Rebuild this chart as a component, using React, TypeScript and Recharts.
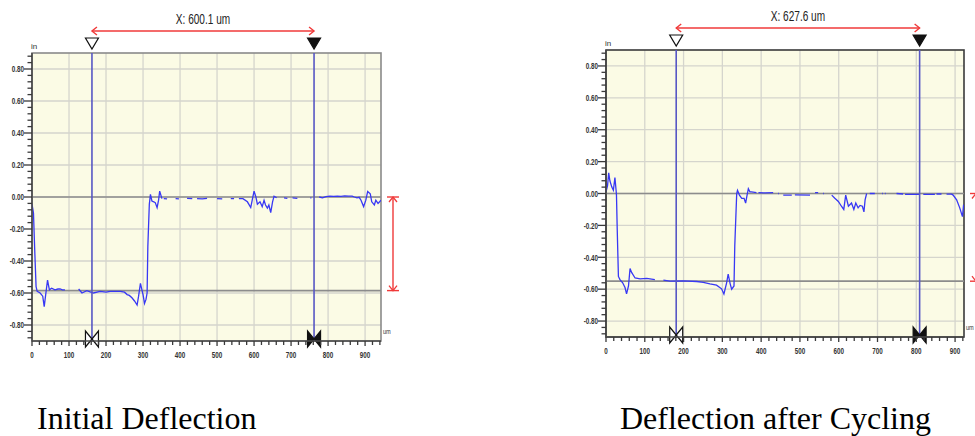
import React from "react"
import { LineChart, Line, XAxis, YAxis, CartesianGrid, ReferenceLine, ReferenceArea } from "recharts"

// profile before cycling (x in um, deflection; null = dropout in the scan)
const initialX = [
    0, 4, 7, 11, 14, 22, 29, 33, 37, 42, 47, 53, 62, 70, 76, 82, 89, 105, 126, 135, 148, 166, 184, 200, 211, 225,
    239, 250, 257, 263, 270, 277, 284, 288, 293, 297, 300, 304, 308, 311, 313, 317, 320, 324, 329, 333, 338, 342,
    345, 351, 353, 356, 365, 376, 388, 397, 408, 419, 433, 440, 446, 460, 473, 487, 500, 514, 525, 537, 546, 553,
    559, 570, 582, 591, 595, 600, 605, 609, 616, 622, 627, 631, 636, 640, 645, 650, 654, 661, 670, 681, 690, 697,
    704, 717, 735, 752, 755, 765, 776, 785, 794, 805, 815, 825, 835, 845, 855, 865, 871, 878, 884, 889, 896, 902,
    907, 914, 918, 925, 929, 935, 943,
]
const initialY = [
    -0.045, -0.1, -0.31, -0.56, -0.59, -0.6, -0.62, -0.685, -0.61, -0.52, -0.58, -0.57, -0.58, -0.575, -0.575, -0.58,
    -0.58, null, -0.575, -0.6, -0.585, -0.6, -0.59, -0.595, -0.59, -0.59, -0.59, -0.595, -0.61, -0.615, -0.63, -0.65,
    -0.675, -0.62, -0.54, -0.58, -0.61, -0.665, -0.64, -0.6, -0.31, -0.045, 0.016, -0.025, -0.03, -0.035, -0.066,
    -0.02, 0.037, -0.01, null, -0.01, -0.012, null, -0.01, -0.012, null, -0.008, -0.01, null, -0.01, -0.012, -0.008,
    null, -0.01, -0.012, null, -0.01, -0.01, null, -0.01, -0.01, -0.03, -0.066, -0.02, 0.037, 0.0, -0.045, -0.03,
    -0.06, -0.02, -0.05, -0.07, -0.05, -0.097, -0.03, 0.005, -0.005, null, -0.005, -0.008, null, -0.005, -0.008,
    null, -0.005, -0.005, null, 0.0, -0.005, 0.003, 0.005, 0.004, 0.006, 0.004, 0.007, 0.005, 0.006, 0.0, -0.005,
    -0.002, -0.02, -0.06, -0.02, 0.035, 0.02, -0.03, -0.05, -0.02, -0.04, -0.02,
]

// profile after cycling
const cycledX = [
    0, 4, 7, 10, 15, 19, 23, 26, 27, 29, 32, 36, 43, 49, 53, 58, 62, 66, 75, 88, 105, 126, 135, 148, 165, 199, 234,
    251, 268, 285, 298, 304, 311, 315, 320, 324, 330, 332, 337, 339, 344, 350, 356, 360, 363, 367, 371, 375, 388,
    390, 393, 410, 431, 438, 444, 446, 450, 457, 479, 483, 487, 526, 532, 539, 547, 553, 560, 562, 570, 582, 590,
    599, 607, 613, 618, 625, 633, 639, 644, 650, 655, 661, 665, 668, 672, 676, 680, 693, 700, 712, 714, 716, 719,
    721, 740, 749, 766, 769, 771, 809, 813, 818, 848, 850, 852, 865, 872, 878, 891, 895, 904, 912, 919, 922,
]
const cycledY = [
    0.01, 0.05, 0.13, 0.08, 0.04, 0.02, 0.1, 0.02, -0.01, -0.23, -0.52, -0.54, -0.56, -0.59, -0.63, -0.58, -0.47,
    -0.495, -0.53, -0.536, -0.532, -0.54, null, -0.543, -0.55, -0.548, -0.552, -0.557, -0.567, -0.575, -0.598, -0.63,
    -0.56, -0.505, -0.565, -0.6, -0.58, -0.33, 0.0, 0.02, -0.01, -0.03, -0.03, -0.06, -0.02, 0.03, 0.01, 0.01, 0.006,
    null, 0.005, 0.004, 0.005, null, 0.0, 0.0, null, -0.01, -0.01, null, -0.008, -0.01, null, 0.005, 0.005, null,
    0.0, 0.0, null, -0.01, -0.03, -0.05, -0.08, -0.1, -0.01, -0.08, -0.06, -0.1, -0.06, -0.09, -0.075, -0.08, -0.115,
    -0.04, 0.0, null, 0.0, 0.0, null, 0.0, 0.0, null, 0.0, 0.0, null, 0.0, -0.003, null, -0.005, -0.005, null, -0.005,
    -0.005, null, -0.003, -0.003, null, -0.004, -0.004, -0.01, -0.04, -0.09, -0.145, -0.07,
]

const yMajorTicks = [-0.8, -0.6, -0.4, -0.2, 0, 0.2, 0.4, 0.6, 0.8]
const xMajorTicks = [0, 100, 200, 300, 400, 500, 600, 700, 800, 900]

const initialCursors = [162, 762.1]
const cycledCursors = [181, 808.6]
const initialLevel = -0.585
const cycledLevel = -0.55
const initialSpan = "X: 600.1 um"
const cycledSpan = "X: 627.6 um"
const captions = ["Initial Deflection", "Deflection after Cycling"]

const Y_DOMAIN: [number, number] = [-0.9, 0.9]
const yMinorTicks = Array.from({ length: 45 }, (_, i) => Math.round((i - 22) * 4) / 100)
const minorX = (max: number) => Array.from({ length: Math.floor(max / 20) + 1 }, (_, i) => i * 20)

const isMajor = (v: number, list: number[]) => list.some((m) => Math.abs(m - v) < 1e-6)

const TICK_FONT = "'Liberation Sans', Arial, sans-serif"
const RED = "#f03a3a"

const YTick = (props: any) => {
    const { x, y, payload } = props
    const v = payload.value as number
    const major = isMajor(v, yMajorTicks)
    return (
        <g>
            <line x1={x - (major ? 8 : 4.5)} x2={x} y1={y} y2={y} stroke="#3a3a3a" strokeWidth={1.3} />
            {major && (
                <text
                    transform={`translate(${x - 8},${y + 3.3}) scale(0.66,1)`}
                    textAnchor="end"
                    fontSize={9.5}
                    fontWeight={700}
                    fontFamily={TICK_FONT}
                    fill="#333"
                >
                    {v.toFixed(2)}
                </text>
            )}
        </g>
    )
}

const XTick = (props: any) => {
    const { x, y, payload } = props
    const v = payload.value as number
    const major = isMajor(v, xMajorTicks)
    return (
        <g>
            <line x1={x} x2={x} y1={y} y2={y + (major ? 5 : 4)} stroke="#3a3a3a" strokeWidth={1.3} />
            {major && (
                <text
                    transform={`translate(${x},${y + 16.5}) scale(0.66,1)`}
                    textAnchor="middle"
                    fontSize={9.5}
                    fontWeight={700}
                    fontFamily={TICK_FONT}
                    fill="#333"
                >
                    {v}
                </text>
            )}
        </g>
    )
}

// cursor: vertical line with a marker triangle on top and a bow tie on the axis
const cursorShape = (filled: boolean) => (p: any) => {
    const x = p.x1
    const top = Math.min(p.y1, p.y2)
    const bottom = Math.max(p.y1, p.y2)
    const fill = filled ? "#111" : "#fff"
    const cy = bottom - 2
    return (
        <g>
            <line x1={x} x2={x} y1={top} y2={bottom} stroke="#5757c4" strokeWidth={1.6} />
            <polygon
                points={`${x - 6.5},${top - 15} ${x + 6.5},${top - 15} ${x},${top - 4}`}
                fill={fill}
                stroke="#111"
                strokeWidth={1.2}
            />
            <polygon
                points={`${x - 6.5},${cy - 8} ${x - 6.5},${cy + 8} ${x},${cy} ${x + 6.5},${cy - 8} ${x + 6.5},${cy + 8} ${x},${cy}`}
                fill={fill}
                stroke="#111"
                strokeWidth={1.2}
            />
        </g>
    )
}

const spanShape = (label: string) => (p: any) => {
    const xa = Math.min(p.x1, p.x2)
    const xb = Math.max(p.x1, p.x2)
    const y = Math.min(p.y1, p.y2) - 22
    return (
        <g>
            <line x1={xa} x2={xb} y1={y} y2={y} stroke={RED} strokeWidth={1.6} />
            <polyline points={`${xa + 5},${y - 4} ${xa},${y} ${xa + 5},${y + 4}`} fill="none" stroke={RED} strokeWidth={1.4} />
            <polyline points={`${xb - 5},${y - 4} ${xb},${y} ${xb - 5},${y + 4}`} fill="none" stroke={RED} strokeWidth={1.4} />
            <text
                transform={`translate(${(xa + xb) / 2},${y - 7.5}) scale(0.72,1)`}
                textAnchor="middle"
                fontSize={14}
                fontFamily={TICK_FONT}
                fill="#222"
            >
                {label}
            </text>
        </g>
    )
}

const levelArrowShape = (p: any) => {
    const x = p.x1 + 12
    const ya = Math.min(p.y1, p.y2)
    const yb = Math.max(p.y1, p.y2)
    return (
        <g>
            <line x1={x} x2={x} y1={ya} y2={yb} stroke={RED} strokeWidth={1.4} />
            <line x1={x - 6} x2={x + 6} y1={ya} y2={ya} stroke={RED} strokeWidth={1.4} />
            <line x1={x - 6} x2={x + 6} y1={yb} y2={yb} stroke={RED} strokeWidth={1.4} />
            <polyline points={`${x - 4},${ya + 5} ${x},${ya} ${x + 4},${ya + 5}`} fill="none" stroke={RED} strokeWidth={1.3} />
            <polyline points={`${x - 4},${yb - 5} ${x},${yb} ${x + 4},${yb - 5}`} fill="none" stroke={RED} strokeWidth={1.3} />
        </g>
    )
}

const frameShape = (color: string) => (p: any) => {
    const { x, y, width, height } = p
    return (
        <g>
            <rect x={x} y={y} width={width} height={height} fill="none" stroke={color} strokeWidth={1.6} />
            <text x={x - 1} y={y - 4} fontSize={8} fontFamily={TICK_FONT} fill="#333">
                in
            </text>
            <text
                transform={`translate(${x + width + 2},${y + height - 7}) scale(0.75,1)`}
                fontSize={7.5}
                fontFamily={TICK_FONT}
                fill="#333"
            >
                um
            </text>
        </g>
    )
}

interface PanelProps {
    xs: number[]
    ys: (number | null)[]
    xMax: number
    cursors: number[]
    level: number
    span: string
    left: number
    margin: { top: number; right: number; bottom: number; left: number }
    frameColor: string
}

const Panel: React.FC<PanelProps> = ({ xs, ys, xMax, cursors, level, span, left, margin, frameColor }) => {
    const data = xs.map((x, i) => ({ x, y: ys[i] }))
    return (
        <div style={{ position: "absolute", left, top: 0 }}>
            <LineChart width={405} height={370} data={data} margin={margin}>
                <CartesianGrid
                    horizontalValues={yMajorTicks}
                    verticalValues={xMajorTicks}
                    stroke="#d5d5cd"
                    strokeWidth={1.3}
                    fill="#fbfbe5"
                    fillOpacity={1}
                />
                <XAxis
                    type="number"
                    dataKey="x"
                    domain={[0, xMax]}
                    ticks={minorX(xMax)}
                    interval={0}
                    tickSize={0}
                    tickMargin={0}
                    tickLine={false}
                    tick={XTick}
                    height={20}
                    axisLine={{ stroke: "#4a4a4a", strokeWidth: 1.6 }}
                    allowDataOverflow
                />
                <YAxis
                    type="number"
                    domain={Y_DOMAIN}
                    ticks={yMinorTicks}
                    interval={0}
                    tickSize={0}
                    tickMargin={0}
                    tickLine={false}
                    tick={YTick}
                    width={32}
                    axisLine={{ stroke: "#4a4a4a", strokeWidth: 1.6 }}
                    allowDataOverflow
                />
                <ReferenceLine y={0} stroke="#8c8c8c" strokeWidth={1.7} />
                <ReferenceLine y={level} stroke="#8c8c8c" strokeWidth={1.7} />
                <Line
                    type="linear"
                    dataKey="y"
                    stroke="#3838f4"
                    strokeWidth={1.3}
                    dot={false}
                    connectNulls={false}
                    isAnimationActive={false}
                />
                <ReferenceLine x={cursors[0]} shape={cursorShape(false)} />
                <ReferenceLine x={cursors[1]} shape={cursorShape(true)} />
                <ReferenceLine
                    segment={[
                        { x: cursors[0], y: Y_DOMAIN[1] },
                        { x: cursors[1], y: Y_DOMAIN[1] },
                    ]}
                    ifOverflow="visible"
                    shape={spanShape(span)}
                />
                <ReferenceLine
                    segment={[
                        { x: xMax, y: 0 },
                        { x: xMax, y: level },
                    ]}
                    ifOverflow="visible"
                    shape={levelArrowShape}
                />
                <ReferenceArea
                    x1={0}
                    x2={xMax}
                    y1={Y_DOMAIN[0]}
                    y2={Y_DOMAIN[1]}
                    ifOverflow="visible"
                    shape={frameShape(frameColor)}
                />
            </LineChart>
        </div>
    )
}

export default function App() {
    return (
        <div style={{ position: "absolute", left: 0, top: 0, width: 975, height: 436, background: "#fff", overflow: "hidden" }}>
            <Panel
                xs={initialX}
                ys={initialY}
                xMax={943}
                cursors={initialCursors}
                level={initialLevel}
                span={initialSpan}
                left={0}
                margin={{ top: 53, right: 24, bottom: 9, left: 0 }}
                frameColor="#8a8a8a"
            />
            <Panel
                xs={cycledX}
                ys={cycledY}
                xMax={923}
                cursors={cycledCursors}
                level={cycledLevel}
                span={cycledSpan}
                left={570}
                margin={{ top: 50, right: 11, bottom: 13, left: 4 }}
                frameColor="#3a3a3a"
            />
            <svg width={975} height={436} style={{ position: "absolute", left: 0, top: 0, pointerEvents: "none" }}>
                <text x={37} y={429} fontSize={32} fontFamily="'Liberation Serif', 'Times New Roman', serif" fill="#000">
                    {captions[0]}
                </text>
                <text x={620} y={429} fontSize={32} fontFamily="'Liberation Serif', 'Times New Roman', serif" fill="#000">
                    {captions[1]}
                </text>
            </svg>
        </div>
    )
}
